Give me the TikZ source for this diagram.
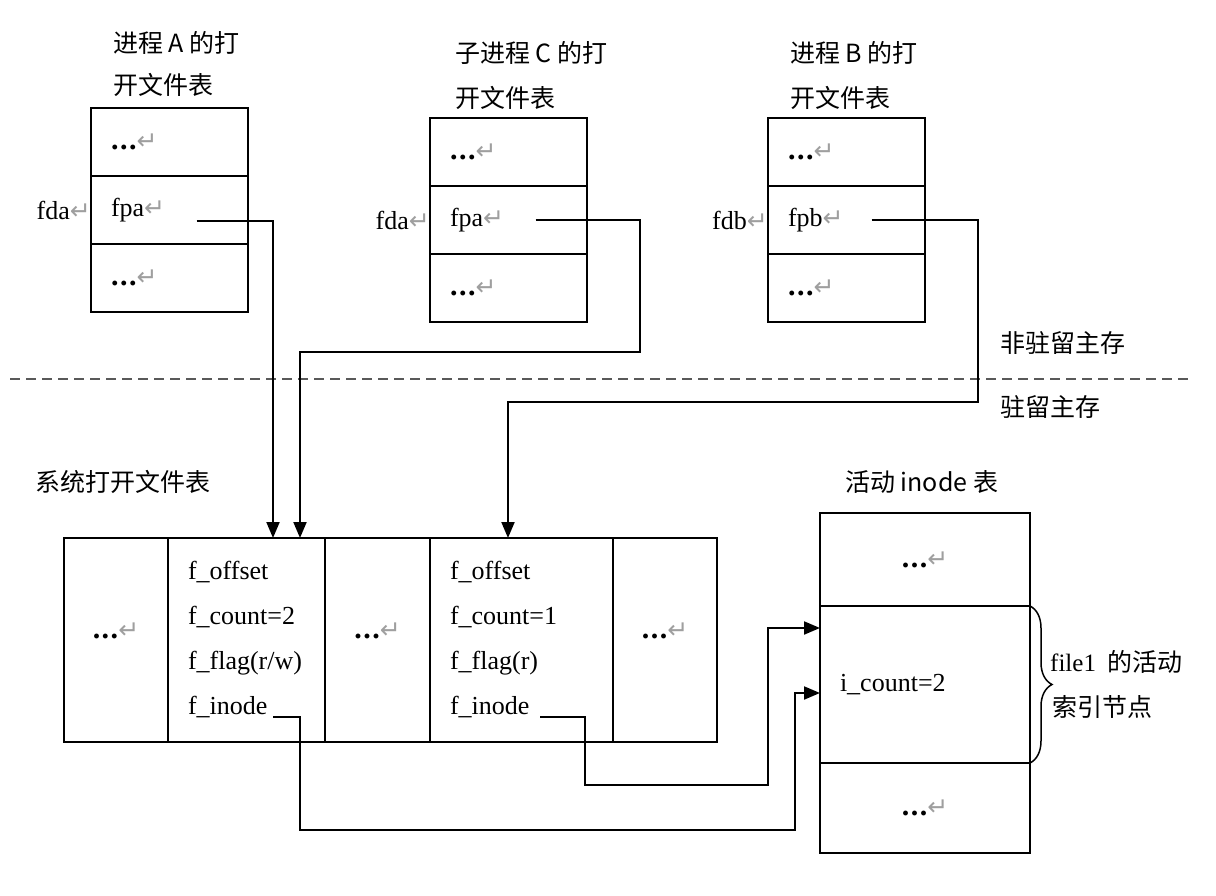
\documentclass[tikz,border=0pt]{standalone}
\usepackage{fontspec}
\setmainfont{Liberation Serif}
\newfontfamily\cjk{Noto Sans CJK SC}
\newfontfamily\symb{DejaVu Sans}
\usetikzlibrary{positioning, arrows.meta, decorations.pathreplacing}
\newcommand{\ret}{{\color{gray!75}\symb\fontsize{25}{25}\selectfont ↵}}
\newcommand{\more}{{\bfseries\fontsize{30}{30}\selectfont .\kern1.5pt.\kern1.5pt.}\ret}
\tikzset{
cell/.style={draw, line width=2pt, outer sep=0pt, inner xsep=20pt, inner ysep=0pt, align=left, font=\fontsize{26}{45}\selectfont}, % every table cell
pcell/.style={cell, minimum width=157pt, minimum height=68pt, text width=117pt}, % process tables
scell/.style={cell, minimum height=204pt}, % system open file table
icell/.style={cell, minimum width=210pt, text width=170pt}, % active inode table
lbl/.style={font=\cjk\fontsize{25}{30}\selectfont, anchor=west, inner sep=0pt},
txt/.style={font=\fontsize{26}{30}\selectfont, inner sep=0pt},
link/.style={line width=2pt},
arr/.style={link, -{Triangle[length=16pt, width=13pt]}},
divider/.style={line width=2pt, color=black!65, dash pattern=on 10pt off 6pt},
brace/.style={decorate, decoration={brace, amplitude=22pt}, line width=1.5pt},
}
\begin{document}
\begin{tikzpicture}[x=1pt, y=-1pt]
\useasboundingbox (0,0) rectangle (1216,896);
% process A
\node[lbl] (labA1) at (113,43) {进程 A 的打};
\node[lbl] (labA2) at (113,85) {开文件表};
\node[pcell, anchor=north west] (a1) at (91,108) {\more};
\node[pcell, below=0pt of a1] (a2) {fpa\ret};
\node[pcell, below=0pt of a2] (a3) {\more};
\node[txt, left=0pt of a2] (fdA) {fda\ret};
% child process C
\node[lbl] (labC1) at (455,53) {子进程 C 的打};
\node[lbl] (labC2) at (455,98) {开文件表};
\node[pcell, anchor=north west] (c1) at (430,118) {\more};
\node[pcell, below=0pt of c1] (c2) {fpa\ret};
\node[pcell, below=0pt of c2] (c3) {\more};
\node[txt, left=0pt of c2] (fdC) {fda\ret};
% process B
\node[lbl] (labB1) at (790,53) {进程 B 的打};
\node[lbl] (labB2) at (790,98) {开文件表};
\node[pcell, anchor=north west] (b1) at (768,118) {\more};
\node[pcell, below=0pt of b1] (b2) {fpb\ret};
\node[pcell, below=0pt of b2] (b3) {\more};
\node[txt, left=0pt of b2] (fdB) {fdb\ret};
% memory boundary
\node[lbl] (labNon) at (1000,343) {非驻留主存};
\node[lbl] (labRes) at (1000,407) {驻留主存};
\draw[divider] (10,379) -- (1190,379);
% system open file table
\node[lbl] (labSys) at (35,482) {系统打开文件表};
\node[scell, minimum width=104pt, text width=64pt, align=center, anchor=north west] (s1) at (64,538) {\raisebox{18pt}{\more}};
\node[scell, minimum width=157pt, text width=117pt, right=0pt of s1] (s2) {f\_offset\\f\_count=2\\f\_flag(r/w)\\f\_inode};
\node[scell, minimum width=105pt, text width=65pt, align=center, right=0pt of s2] (s3) {\raisebox{18pt}{\more}};
\node[scell, minimum width=183pt, text width=143pt, right=0pt of s3] (s4) {f\_offset\\f\_count=1\\f\_flag(r)\\f\_inode};
\node[scell, minimum width=104pt, text width=64pt, align=center, right=0pt of s4] (s5) {\raisebox{18pt}{\more}};
% active inode table
\node[lbl] (labInode) at (845,482) {活动 inode 表};
\node[icell, minimum height=93pt, align=center, anchor=north west] (i1) at (820,513) {\raisebox{-12pt}{\more}};
\node[icell, minimum height=157pt, below=0pt of i1] (i2) {i\_count=2};
\node[icell, minimum height=90pt, align=center, below=0pt of i2] (i3) {\raisebox{-14pt}{\more}};
\draw[brace] (i2.north east) -- (i2.south east);
\node[lbl] (labFile1) at (1050,662) {\textrm{file1}\ \ 的活动};
\node[lbl] (labFile2) at (1052,707) {索引节点};
% pointers
\coordinate (aout) at ([shift={(27,11)}]a2.center);
\coordinate (cout) at ([shift={(27,0)}]c2.center);
\coordinate (bout) at ([shift={(25,0)}]b2.center);
\coordinate (s2in) at ([shift={(26.5,77)}]s2.center);
\coordinate (s4in) at ([shift={(18.5,77)}]s4.center);
\draw[arr] (aout) -| ([xshift=26.5pt]s2.north);
\draw[arr] (cout) -| (640,352) -| ([xshift=53.5pt]s2.north);
\draw[arr] (bout) -| (978,402) -| ([xshift=-13.5pt]s4.north);
\draw[arr] (s4in) -| (585,785) -| (768,628) -- ([yshift=56.5pt]i2.west);
\draw[arr] (s2in) -| (300,830) -| (795,693) -- ([yshift=-8.5pt]i2.west);
\end{tikzpicture}
\end{document}
